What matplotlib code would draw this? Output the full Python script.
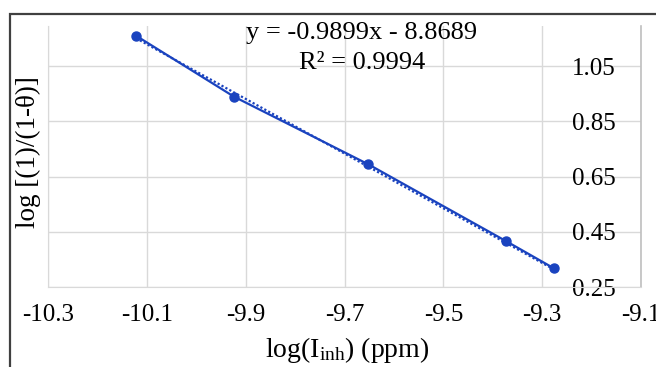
import numpy as np
import matplotlib
matplotlib.use('Agg')
import matplotlib.pyplot as plt
from matplotlib.patches import Rectangle

### Data ###
log_inh = [-10.122, -9.9235, -9.6516, -9.3735, -9.2763]
log_theta = [1.160, 0.939, 0.694, 0.4165, 0.3177]
x_ticks = [-10.3, -10.1, -9.9, -9.7, -9.5, -9.3, -9.1]
y_ticks = [0.25, 0.45, 0.65, 0.85, 1.05]
slope = -0.9899
intercept = -8.8689
r_squared = 0.9994

plt.rcParams['font.family'] = ['Liberation Serif', 'DejaVu Serif']
plt.rcParams['mathtext.fontset'] = 'custom'
plt.rcParams['mathtext.rm'] = 'Liberation Serif'
plt.rcParams['mathtext.it'] = 'Liberation Serif:italic'

blue = '#1a43bf'
grid_c = '#d9d9d9'

W, H = 656, 367
fig = plt.figure(figsize=(W / 100, H / 100), dpi=100)
ax = fig.add_axes([48 / W, 1 - 287 / H, (641 - 48) / W, (287 - 26) / H])

# data line + markers
ax.plot(log_inh, log_theta, color=blue, lw=1.6, marker='o', ms=6.5, zorder=3)

# linear trendline (dotted)
xt = np.array([log_inh[0], log_inh[-1]])
ax.plot(xt, slope * xt + intercept, color=blue, lw=1.6, ls=(0, (1, 1)), zorder=2)

ax.set_xlim(-10.3, -9.1)
ax.set_ylim(0.25, 1.195)
ax.set_xticks(x_ticks)
ax.set_xticklabels(['%g' % v for v in x_ticks])
ax.set_yticks(y_ticks)
ax.set_yticklabels(['%.2f' % v for v in y_ticks])

ax.grid(True, color=grid_c, lw=1)
ax.set_axisbelow(True)

# axes frame
ax.spines['top'].set_visible(False)
ax.spines['left'].set_color(grid_c)
ax.spines['bottom'].set_color(grid_c)
ax.spines['right'].set_color('#bfbfbf')
ax.spines['right'].set_linewidth(1.2)

# y labels drawn inside, to the left of right axis
ax.yaxis.set_ticks_position('right')
ax.tick_params(axis='y', length=0, pad=-18, labelsize=18)
for lab in ax.get_yticklabels():
    lab.set_horizontalalignment('right')
ax.tick_params(axis='x', length=0, pad=12, labelsize=18)

ax.set_ylabel('log [(1)/(1-θ)]', fontsize=19.5)
ax.yaxis.set_label_position('left')
ax.yaxis.label.set_va('center')
ax.yaxis.set_label_coords((28 - 48) / 593, (287 - 152) / 261)

ax.set_xlabel(r'log(I$_{\mathrm{inh}}$) (ppm)', fontsize=20)
ax.xaxis.label.set_va('center')
ax.xaxis.set_label_coords((347 - 48) / 593, (287 - 350) / 261)

# trendline equation
ax.text(0.528, 0.973, 'y = %.4fx - %.4f' % (slope, -intercept), transform=ax.transAxes,
        ha='center', va='center', fontsize=19)
ax.text(0.53, 0.858, 'R² = %.4f' % r_squared, transform=ax.transAxes,
        ha='center', va='center', fontsize=19)

# chart-area border (cropped on right and bottom)
fig.add_artist(Rectangle((10 / W, -0.2), 1.0, 1.2 - 14 / H, transform=fig.transFigure,
                         fill=False, edgecolor='#404040', lw=1.6))

fig.savefig('out.png', dpi=100)
